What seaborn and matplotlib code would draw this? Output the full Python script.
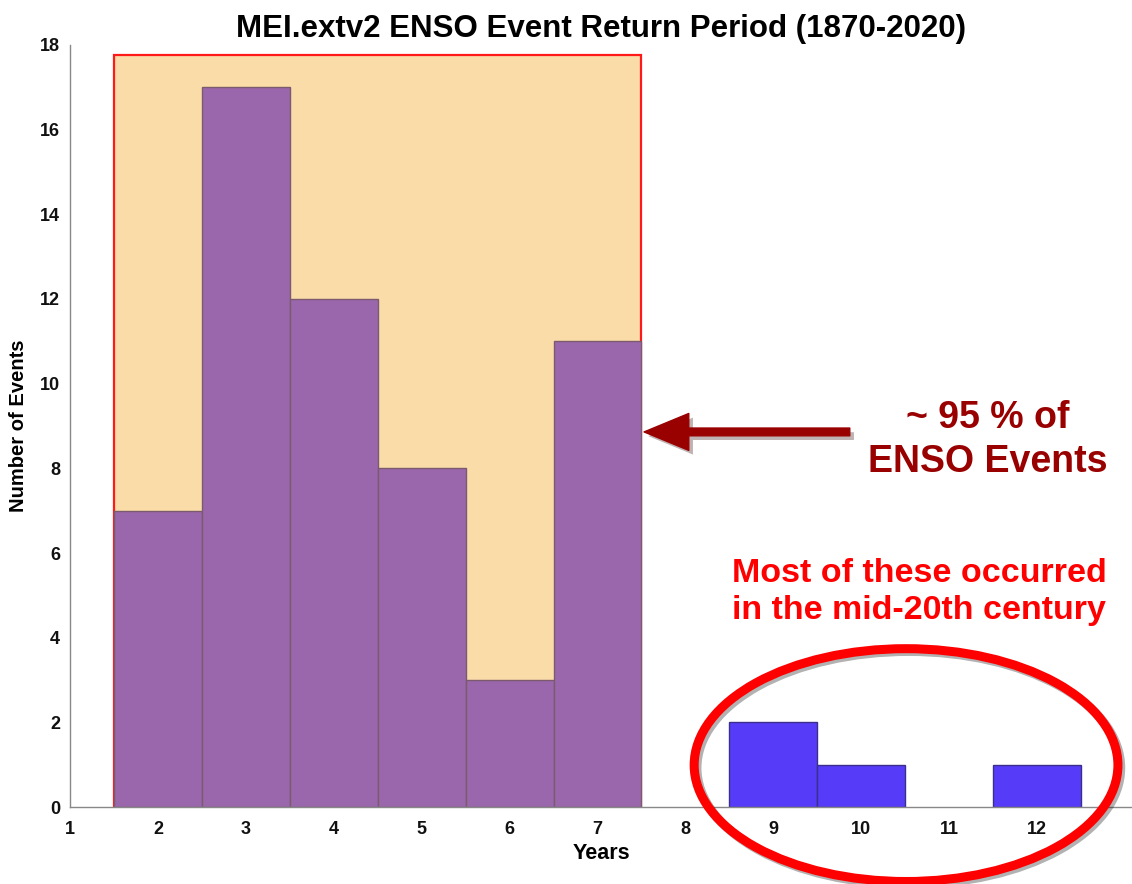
import numpy as np
import pandas as pd
import matplotlib
matplotlib.use("Agg")
import matplotlib.pyplot as plt
import matplotlib.patches as mpatches
import matplotlib.patheffects as pe
import seaborn as sns

# Return period histogram (years between events)
main_years = [2, 3, 4, 5, 6, 7]
main_counts = [7, 17, 12, 8, 3, 11]
rare_years = [9, 10, 11, 12]
rare_counts = [2, 1, 0, 1]
xtick_vals = list(range(1, 13))
ytick_vals = list(range(0, 19, 2))

sns.set_style("white")
plt.rcParams['font.family'] = ['Liberation Sans', 'DejaVu Sans']
plt.rcParams['font.weight'] = 'bold'
plt.rcParams['text.color'] = 'black'
plt.rcParams['axes.labelcolor'] = 'black'
plt.rcParams['xtick.labelcolor'] = '#111111'
plt.rcParams['ytick.labelcolor'] = '#111111'

fig = plt.figure(figsize=(11.32, 8.84), dpi=100)
ax = fig.add_axes([0.0618, 0.0871, 0.9382, 0.862])

main_df = pd.DataFrame({'year': main_years, 'count': main_counts})
rare_df = pd.DataFrame({'year': rare_years, 'count': rare_counts})

# shaded box behind the common return periods
ax.add_patch(mpatches.Rectangle((1.5, 0), 6, 17.76, facecolor='#f9dca8',
                                edgecolor='#ff1a1a', linewidth=1.6, zorder=0.5))

sns.barplot(data=main_df, x='year', y='count', native_scale=True, width=1,
            color='#9a67ac', saturation=1, edgecolor='#7b5a6e', linewidth=1,
            ax=ax, zorder=2)
sns.barplot(data=rare_df[rare_df['count'] > 0], x='year', y='count',
            native_scale=True, width=1, color='#563cf8', saturation=1,
            edgecolor='#3a2f8a', linewidth=1, ax=ax, zorder=2)

ax.set_xlim(1, 13.08)
ax.set_ylim(0, 18)
ax.set_xticks(xtick_vals)
ax.set_yticks(ytick_vals)
ax.tick_params(direction='in', length=5, color='#888888', labelsize=13)
ax.tick_params(axis='x', pad=10)
ax.tick_params(axis='y', pad=7)
for lab in ax.get_xticklabels() + ax.get_yticklabels():
    lab.set_fontweight('bold')
for s in ['top', 'right']:
    ax.spines[s].set_visible(False)
for s in ['left', 'bottom']:
    ax.spines[s].set_color('#888888')
    ax.spines[s].set_linewidth(1)

ax.set_xlabel('Years', fontsize=15.5, fontweight='bold', labelpad=4)
ax.set_ylabel('Number of Events', fontsize=14.5, fontweight='bold', labelpad=9)
ax.set_title('MEI.extv2 ENSO Event Return Period (1870-2020)', fontsize=22.5,
             fontweight='bold', pad=6)

# arrow pointing at the box
arrow = mpatches.FancyArrowPatch((9.87, 8.86), (7.53, 8.86),
                                 arrowstyle='simple,head_length=2.3,head_width=1.9,tail_width=0.4',
                                 mutation_scale=14, color='#990000',
                                 shrinkA=0, shrinkB=0, clip_on=False, zorder=6,
                                 path_effects=[pe.SimplePatchShadow(offset=(3, -3), alpha=0.3),
                                               pe.Normal()])
ax.add_patch(arrow)
ax.text(11.44, 8.67, '~ 95 % of\nENSO Events', color='#990000', fontsize=27,
        fontweight='bold', ha='center', va='center', linespacing=1.3)

ax.text(10.66, 5.08, 'Most of these occurred\nin the mid-20th century',
        color='#ff0000', fontsize=24.5, fontweight='bold', ha='center',
        va='center', linespacing=1.25)

ell = mpatches.Ellipse((10.51, 0.99), 4.82, 5.5, fill=False,
                       edgecolor='#ff0000', linewidth=6.5, zorder=5,
                       clip_on=False,
                       path_effects=[pe.SimpleLineShadow(offset=(2, -2), alpha=0.3),
                                     pe.Normal()])
ax.add_patch(ell)

fig.savefig('out.png', dpi=100)
